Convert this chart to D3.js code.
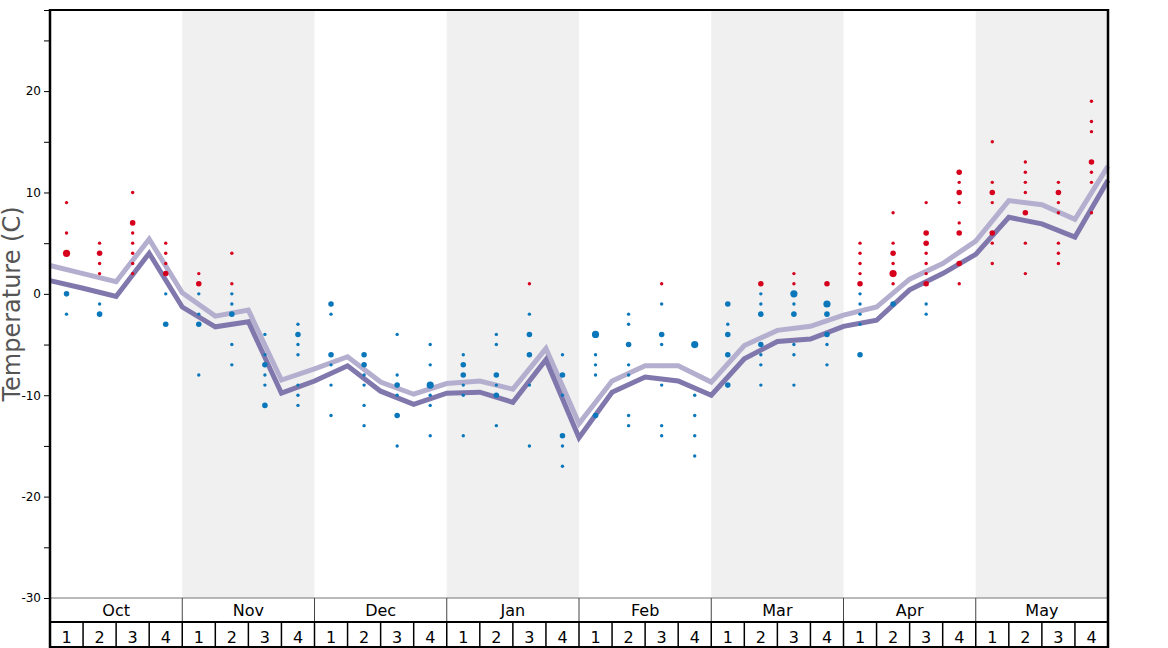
<!DOCTYPE html>
<html><head><meta charset="utf-8">
<script src="https://cdn.jsdelivr.net/npm/d3@7"></script>
<style>
html,body{margin:0;padding:0;background:#fff;}
svg{display:block;font-family:"DejaVu Sans",sans-serif;}
</style></head>
<body>
<svg id="chart" width="1168" height="648"></svg>
<script>
// ---- data ----
const months = ["Oct","Nov","Dec","Jan","Feb","Mar","Apr","May"];
const weekLabels = ["1","2","3","4"];
const yTicks = [-30,-25,-20,-15,-10,-5,0,5,10,15,20,25];
// upper (light) line, values at week boundaries (33 points)
const lineUpper = [2.8,2.0,1.2,5.4,0.1,-2.2,-1.6,-8.5,-7.4,-6.2,-8.7,-9.9,-8.85,-8.6,-9.4,-5.4,-12.8,-8.6,-7.1,-7.1,-8.7,-5.1,-3.6,-3.2,-2.1,-1.3,1.45,3.0,5.2,9.2,8.8,7.35,12.6];
// lower (dark) line
const lineLower = [1.3,0.55,-0.25,4.0,-1.3,-3.25,-2.75,-9.8,-8.6,-7.1,-9.6,-10.9,-9.8,-9.7,-10.7,-6.5,-14.2,-9.7,-8.2,-8.6,-10.0,-6.4,-4.7,-4.45,-3.2,-2.6,0.4,2.0,3.9,7.55,6.9,5.6,11.2];
// observed temperatures per week: [temperature, count]
const weeklyObs = [
  [[9,1],[6,1],[4,3],[0,2],[-2,1]],
  [[5,1],[4,2],[3,1],[2,1],[-1,1],[-2,2]],
  [[10,1],[7,2],[6,1],[5,1],[4,1],[3,1],[2,1]],
  [[5,1],[4,1],[3,1],[2,2],[0,1],[-3,2]],
  [[2,1],[1,2],[0,1],[-2,1],[-3,2],[-8,1]],
  [[4,1],[1,1],[0,1],[-1,1],[-2,2],[-5,1],[-7,1]],
  [[-4,1],[-6,1],[-7,2],[-8,1],[-9,1],[-11,2]],
  [[-3,1],[-4,2],[-5,1],[-6,1],[-9,1],[-10,1],[-11,1]],
  [[-1,2],[-2,1],[-6,2],[-7,1],[-9,1],[-12,1]],
  [[-6,2],[-7,2],[-8,1],[-9,1],[-11,1],[-13,1]],
  [[-4,1],[-8,1],[-9,2],[-10,1],[-12,2],[-15,1]],
  [[-5,1],[-7,1],[-9,3],[-10,1],[-11,1],[-14,1]],
  [[-6,1],[-7,2],[-8,2],[-9,1],[-10,1],[-14,1]],
  [[-4,1],[-5,1],[-8,2],[-9,1],[-10,2],[-13,1]],
  [[1,1],[-2,1],[-4,2],[-6,2],[-9,1],[-15,1]],
  [[-6,1],[-8,2],[-10,1],[-14,2],[-15,1],[-17,1]],
  [[-4,3],[-6,1],[-7,1],[-8,1],[-12,2]],
  [[-2,1],[-3,1],[-5,2],[-7,1],[-8,1],[-12,1],[-13,1]],
  [[1,1],[-1,1],[-4,2],[-5,1],[-9,1],[-13,1],[-14,1]],
  [[-5,3],[-10,1],[-12,1],[-14,1],[-16,1]],
  [[-1,2],[-3,1],[-4,2],[-6,2],[-9,2]],
  [[1,2],[0,1],[-1,1],[-2,2],[-5,2],[-6,1],[-7,1],[-9,1]],
  [[2,1],[1,1],[0,3],[-1,1],[-2,2],[-5,1],[-6,1],[-9,1]],
  [[1,2],[-1,3],[-2,2],[-4,2],[-5,1],[-7,1]],
  [[5,1],[4,1],[3,1],[2,1],[1,2],[0,1],[-1,1],[-2,1],[-3,1],[-6,2]],
  [[8,1],[5,1],[4,2],[3,1],[2,3],[1,1],[-1,2]],
  [[9,1],[6,2],[5,2],[4,1],[3,1],[2,1],[1,2],[-1,1],[-2,1]],
  [[12,2],[11,1],[10,2],[9,1],[7,1],[6,2],[3,2],[1,1]],
  [[15,1],[11,1],[10,2],[9,1],[6,2],[5,1],[3,1]],
  [[13,1],[12,1],[11,1],[10,1],[8,2],[5,1],[2,1]],
  [[11,1],[10,2],[9,1],[8,1],[5,1],[4,1],[3,1]],
  [[19,1],[17,1],[16,1],[13,2],[12,1],[11,1],[8,1]]
];

// ---- layout ----
const svg = d3.select("#chart");
const mLeft = 50, mRight = 1108, mTop = 10, plotBottom = 598, monthBottom = 622, mBottom = 647;
const nWeeks = months.length * weekLabels.length;
const x = d3.scaleLinear().domain([0, nWeeks]).range([mLeft, mRight]);
const y = d3.scaleLinear().domain([-30, 28]).range([plotBottom, mTop]);
const r = d3.scaleSqrt().domain([1, 3]).range([1.7, 3.6]);

// month shading
svg.append("g").selectAll("rect").data(months).join("rect")
  .attr("x", (d,i) => x(i*4)).attr("y", mTop)
  .attr("width", x(4) - x(0)).attr("height", plotBottom - mTop)
  .attr("fill", (d,i) => i % 2 ? "#f0f0f0" : "none");

// lines
const line = d3.line().x((d,i) => x(i)).y(d => y(d));
svg.append("path").datum(lineUpper).attr("d", line)
  .attr("fill","none").attr("stroke","#b4afcf").attr("stroke-width",5).attr("stroke-linejoin","miter");
svg.append("path").datum(lineLower).attr("d", line)
  .attr("fill","none").attr("stroke","#8077ad").attr("stroke-width",5).attr("stroke-linejoin","miter");

// dots
const dots = [];
weeklyObs.forEach((arr, w) => arr.forEach(([t, c]) => dots.push({w, t, c})));
svg.append("g").selectAll("circle").data(dots).join("circle")
  .attr("cx", d => x(d.w + 0.5)).attr("cy", d => y(d.t))
  .attr("r", d => r(d.c))
  .attr("fill", d => d.t > 0 ? "#d6001c" : "#0a77ba");

// y axis
const yAxis = d3.axisLeft(y).tickValues(yTicks).tickSize(6).tickSizeOuter(6)
  .tickFormat(d => d % 10 === 0 ? d : "");
const ga = svg.append("g").attr("transform", `translate(${mLeft},0)`).call(yAxis);
ga.selectAll("text").attr("font-size", 12).attr("font-family","DejaVu Sans").attr("fill","#000");
ga.selectAll(".tick line").attr("stroke","#000");
ga.select(".domain").attr("stroke","#000").attr("stroke-width",1);

// y title
svg.append("text").attr("transform", `translate(20,${(mTop+plotBottom)/2}) rotate(-90)`)
  .attr("text-anchor","middle").attr("font-size", 24).attr("fill","#555")
  .text("Temperature (C)");

// bottom band
svg.append("line").attr("x1", mLeft).attr("x2", mRight).attr("y1", plotBottom).attr("y2", plotBottom)
  .attr("stroke","#777").attr("stroke-width",1);
svg.append("g").selectAll("line").data(d3.range(1, months.length)).join("line")
  .attr("x1", d => x(d*4)).attr("x2", d => x(d*4))
  .attr("y1", plotBottom).attr("y2", monthBottom)
  .attr("stroke","#444").attr("stroke-width",1);
svg.append("g").selectAll("text").data(months).join("text")
  .attr("x", (d,i) => x(i*4 + 2)).attr("y", 616)
  .attr("text-anchor","middle").attr("font-size",16).attr("fill","#000").text(d => d);
svg.append("line").attr("x1", mLeft).attr("x2", mRight).attr("y1", monthBottom).attr("y2", monthBottom)
  .attr("stroke","#000").attr("stroke-width",2);
svg.append("g").selectAll("line").data(d3.range(1, nWeeks)).join("line")
  .attr("x1", d => x(d)).attr("x2", d => x(d))
  .attr("y1", monthBottom).attr("y2", 648)
  .attr("stroke","#000").attr("stroke-width",1.5);
svg.append("g").selectAll("text").data(d3.range(nWeeks)).join("text")
  .attr("x", d => x(d + 0.5)).attr("y", 643)
  .attr("text-anchor","middle").attr("font-size",16).attr("fill","#000")
  .text(d => weekLabels[d % 4]);
svg.append("line").attr("x1", mLeft).attr("x2", mRight).attr("y1", mBottom).attr("y2", mBottom)
  .attr("stroke","#000").attr("stroke-width",2);

// frame
svg.append("line").attr("x1", mLeft).attr("x2", mRight).attr("y1", mTop).attr("y2", mTop)
  .attr("stroke","#000").attr("stroke-width",2);
svg.append("line").attr("x1", mLeft).attr("x2", mLeft).attr("y1", mTop-1).attr("y2", 648)
  .attr("stroke","#000").attr("stroke-width",2.5);
svg.append("line").attr("x1", mRight).attr("x2", mRight).attr("y1", mTop-1).attr("y2", 648)
  .attr("stroke","#000").attr("stroke-width",2.5);
</script>
</body></html>
